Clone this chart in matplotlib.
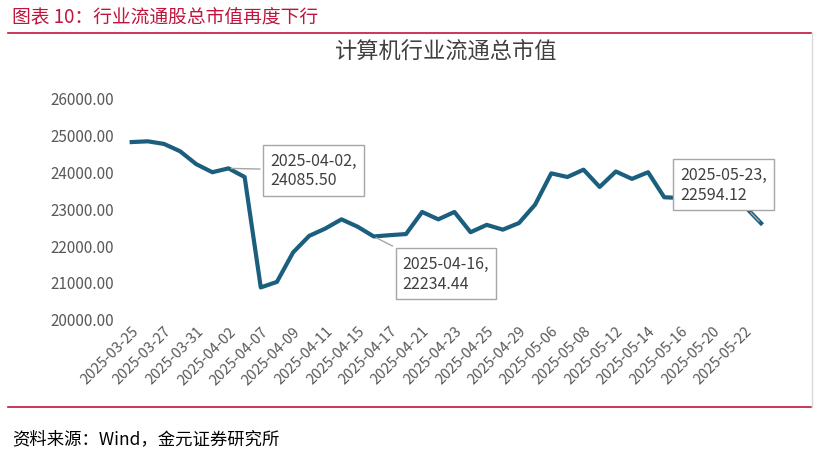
import matplotlib.pyplot as plt

plt.rcParams['font.family'] = ['Noto Sans CJK SC', 'DejaVu Sans']

dates = ["2025-03-25", "2025-03-26", "2025-03-27", "2025-03-28", "2025-03-31",
         "2025-04-01", "2025-04-02", "2025-04-03", "2025-04-07", "2025-04-08",
         "2025-04-09", "2025-04-10", "2025-04-11", "2025-04-14", "2025-04-15",
         "2025-04-16", "2025-04-17", "2025-04-18", "2025-04-21", "2025-04-22",
         "2025-04-23", "2025-04-24", "2025-04-25", "2025-04-28", "2025-04-29",
         "2025-04-30", "2025-05-06", "2025-05-07", "2025-05-08", "2025-05-09",
         "2025-05-12", "2025-05-13", "2025-05-14", "2025-05-15", "2025-05-16",
         "2025-05-19", "2025-05-20", "2025-05-21", "2025-05-22", "2025-05-23"]
values = [24800, 24820, 24750, 24550, 24200, 23980, 24085.50, 23850, 20850, 21000,
          21800, 22250, 22450, 22700, 22500, 22234.44, 22270, 22300, 22900, 22700,
          22900, 22350, 22550, 22420, 22600, 23100, 23950, 23850, 24050, 23580,
          24000, 23800, 23980, 23300, 23280, 23320, 23380, 23250, 23050, 22594.12]
notes = [(6, 2.6, -0.05), (15, 1.8, -1.0), (39, -5.0, 1.05)]

fig = plt.figure(figsize=(8.19, 4.6), dpi=100)
fig.text(0.015, 0.962, "图表 10：行业流通股总市值再度下行", color="#C0143C", fontsize=13.5, va="center")
fig.add_artist(plt.Line2D([0.01, 0.99], [0.927, 0.927], color="#C0143C", lw=1.2))
fig.add_artist(plt.Line2D([0.01, 0.99], [0.113, 0.113], color="#C0143C", lw=1.2))
fig.add_artist(plt.Line2D([0.991, 0.991], [0.113, 0.927], color="#D9D9D9", lw=1))
fig.text(0.015, 0.045, "资料来源：Wind，金元证券研究所", fontsize=12.5, va="center")

ax = fig.add_axes([0.145, 0.305, 0.8, 0.48])
x = list(range(len(dates)))
ax.plot(x, values, color="#1B5E7E", lw=3)
ax.set_ylim(20000, 26000)
ax.set_yticks(range(20000, 26001, 1000))
ax.set_yticklabels([f"{v:.2f}" for v in range(20000, 26001, 1000)], fontsize=11, color="#595959")
ax.set_xlim(-0.8, len(dates) - 0.2)
ax.set_xticks(x[::2])
ax.set_xticklabels(dates[::2], rotation=45, ha="right", rotation_mode="anchor", fontsize=10.5, color="#595959")
for s in ax.spines.values():
    s.set_visible(False)
ax.tick_params(length=0)
ax.set_title("计算机行业流通总市值", fontsize=16, color="#404040", pad=30)

for i, dx, dy in notes:
    ax.annotate(f"{dates[i]},\n{values[i]:.2f}", xy=(i, values[i]),
                xytext=(i + dx, values[i] + dy * 1000),
                fontsize=11.5, color="#404040", ha="left", va="center",
                bbox=dict(boxstyle="square,pad=0.45", fc="white", ec="#A6A6A6"),
                arrowprops=dict(arrowstyle="-", color="#A6A6A6"))

fig.savefig("out.png")
